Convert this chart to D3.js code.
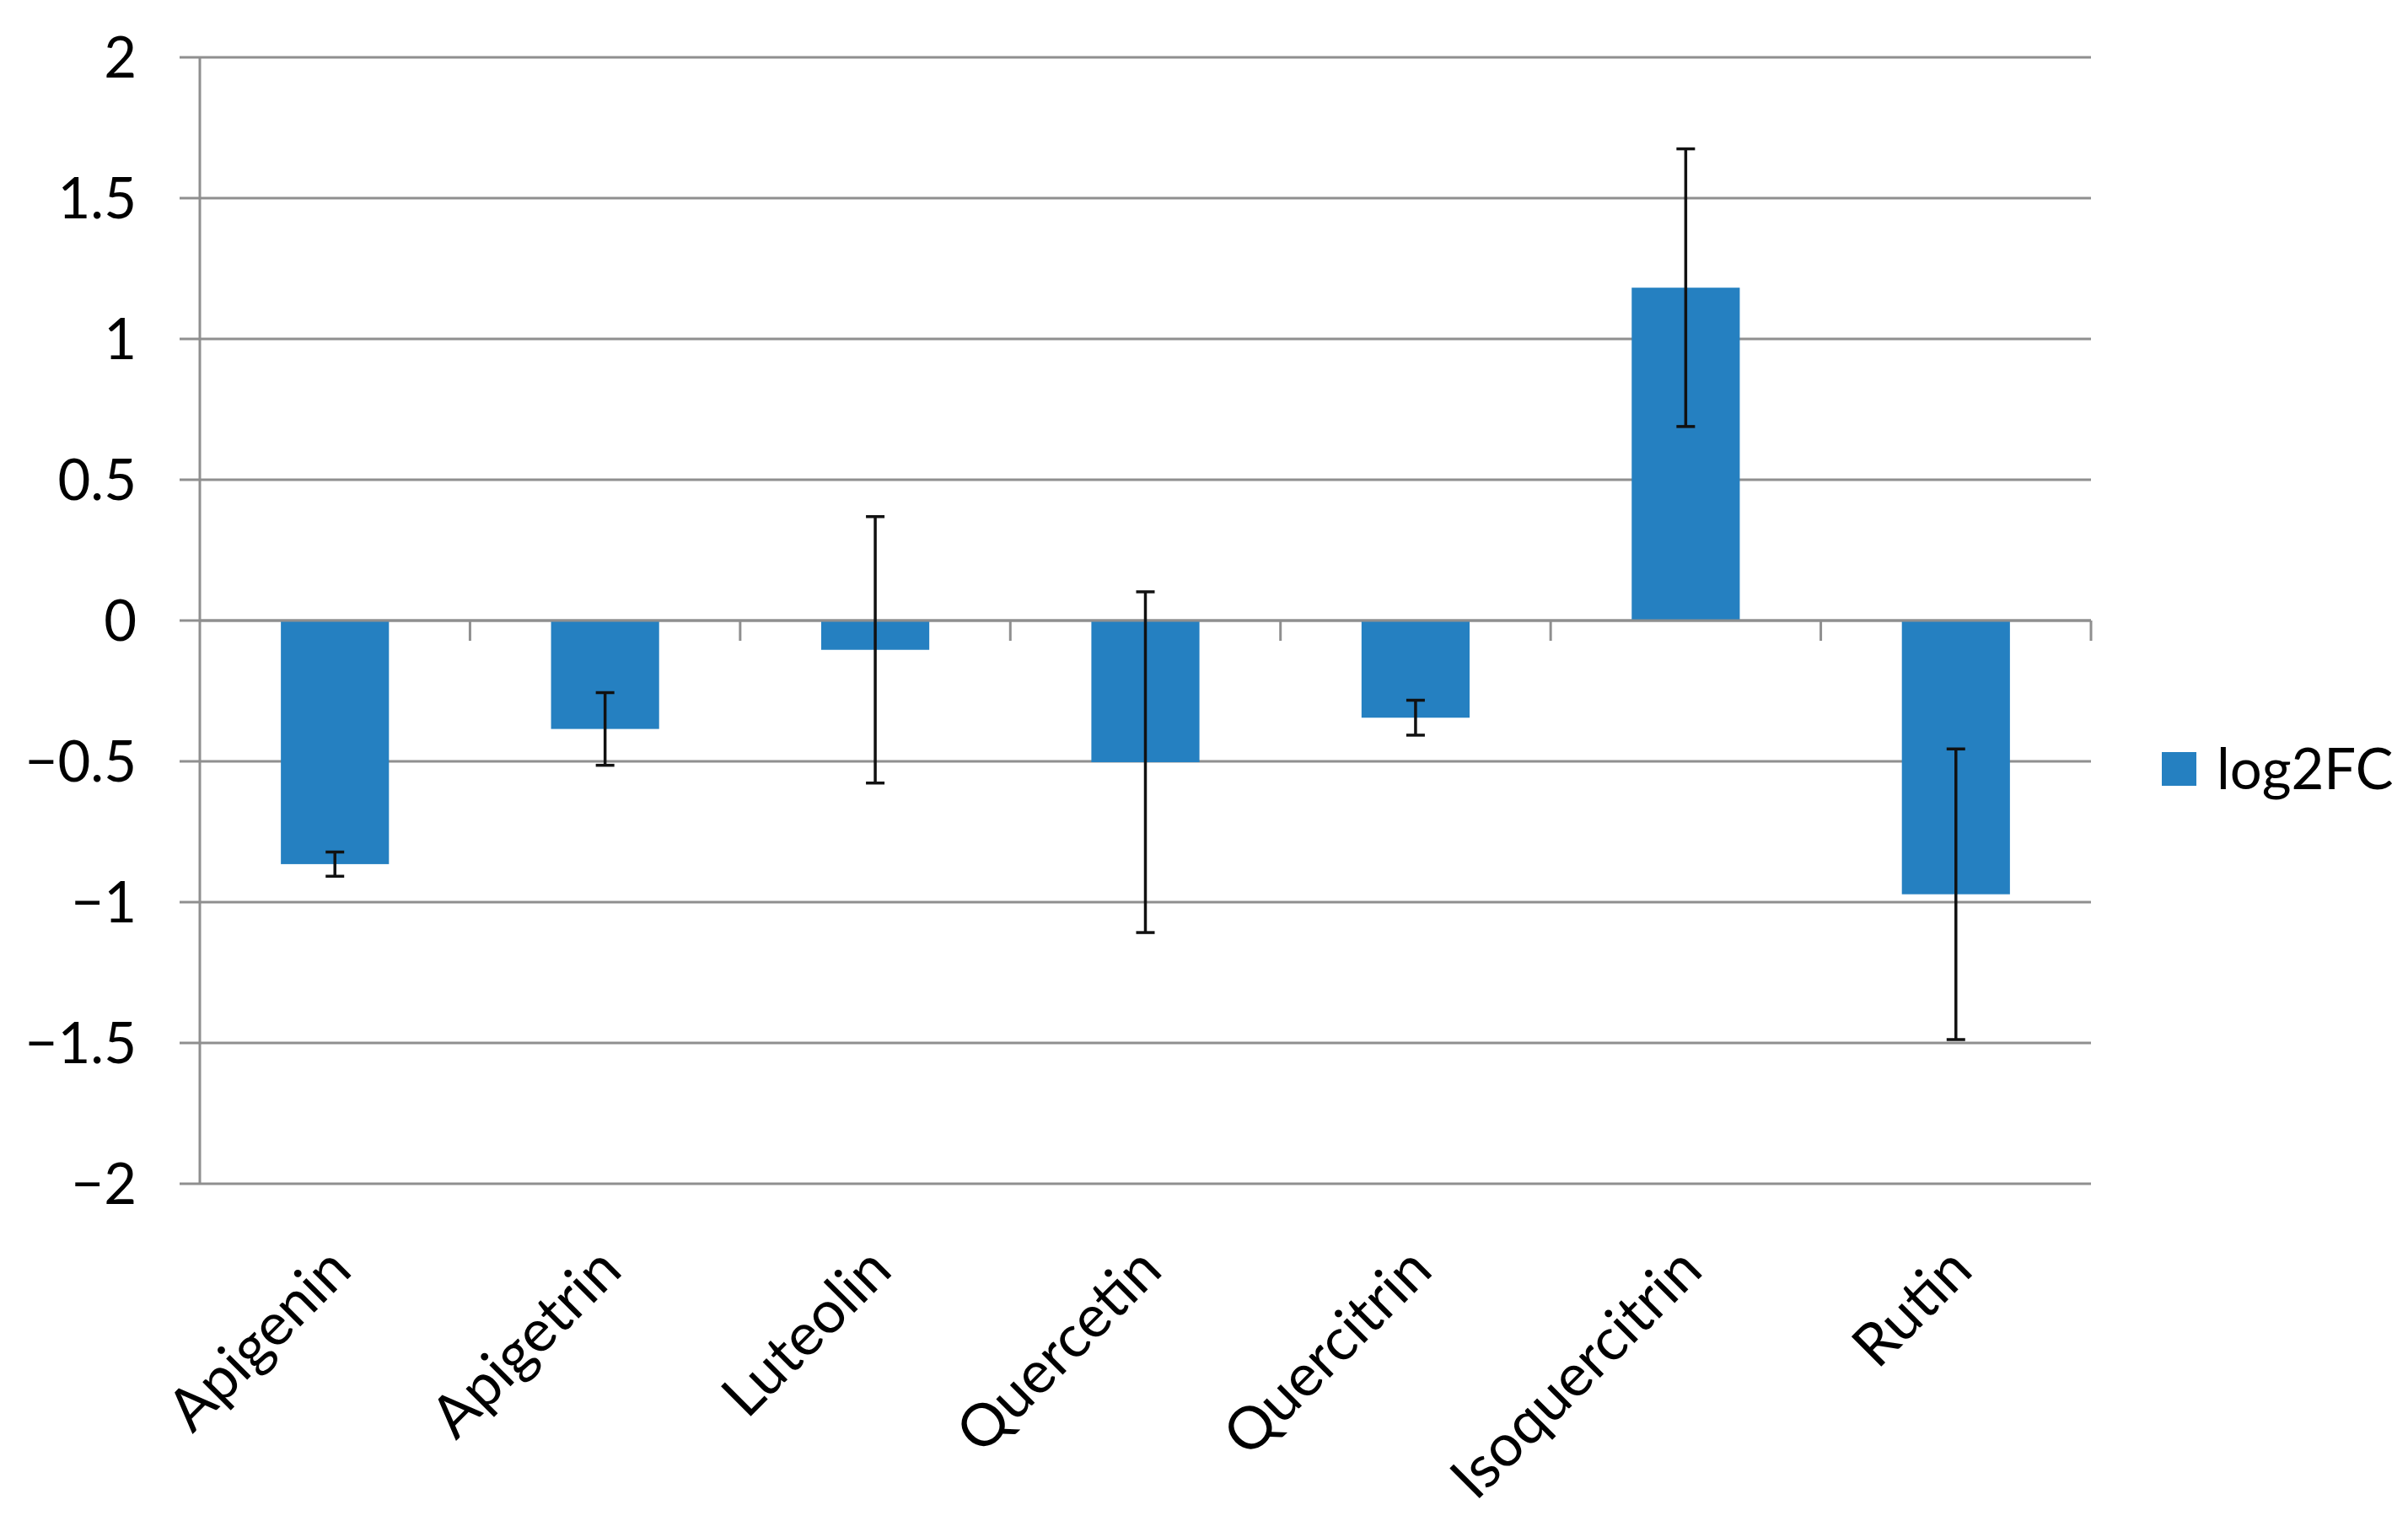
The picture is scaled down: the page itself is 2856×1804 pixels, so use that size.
<!DOCTYPE html>
<html>
<head>
<meta charset="utf-8">
<script src="https://cdn.jsdelivr.net/npm/d3@7"></script>
<style>
  body { margin: 0; background: #fff; }
  text { font-family: Lato, "Open Sans", sans-serif; fill: #000; }
</style>
</head>
<body>
<div id="plot"></div>
<script>
// Chart data
const compounds = ["Apigenin", "Apigetrin", "Luteolin", "Quercetin", "Quercitrin", "Isoquercitrin", "Rutin"];
const log2FC = [-0.865, -0.385, -0.104, -0.503, -0.345, 1.182, -0.972];
const errors = [0.043, 0.129, 0.473, 0.605, 0.062, 0.493, 0.516];
const yTicks = [-2, -1.5, -1, -0.5, 0, 0.5, 1, 1.5, 2];
const seriesName = "log2FC";

const W = 2856, H = 1804;
const margin = { top: 68, right: 376, bottom: 400, left: 237 };
const width = W - margin.left - margin.right;
const height = H - margin.top - margin.bottom;

const barColor = "#2580c1";
const gridColor = "#8f8f8f";
const fontSize = 67;
const catFontSize = 70;

const svg = d3.select("#plot")
  .append("svg")
  .attr("width", W)
  .attr("height", H);

const g = svg.append("g")
  .attr("transform", `translate(${margin.left},${margin.top})`);

const x = d3.scaleBand()
  .domain(compounds)
  .range([0, width])
  .paddingInner(0.6)
  .paddingOuter(0.3);

const y = d3.scaleLinear()
  .domain([-2, 2])
  .range([height, 0]);

// horizontal gridlines (with outward tick stubs)
g.append("g")
  .selectAll("line")
  .data(yTicks)
  .join("line")
  .attr("x1", -24)
  .attr("x2", width)
  .attr("y1", (d) => y(d))
  .attr("y2", (d) => y(d))
  .attr("stroke", gridColor)
  .attr("stroke-width", 3);

// y tick labels
g.append("g")
  .selectAll("text")
  .data(yTicks)
  .join("text")
  .attr("x", -75)
  .attr("y", (d) => y(d))
  .attr("dy", "0.36em")
  .attr("text-anchor", "end")
  .style("font-size", fontSize + "px")
  .text((d) => d < 0 ? "\u2212" + Math.abs(d) : d);

// vertical axis line
g.append("line")
  .attr("x1", 0).attr("x2", 0)
  .attr("y1", 0).attr("y2", height)
  .attr("stroke", gridColor)
  .attr("stroke-width", 3);

// category ticks hanging from the zero line
const step = x.step();
g.append("g")
  .selectAll("line")
  .data(d3.range(1, compounds.length + 1))
  .join("line")
  .attr("x1", (i) => i * step)
  .attr("x2", (i) => i * step)
  .attr("y1", y(0))
  .attr("y2", y(0) + 24)
  .attr("stroke", gridColor)
  .attr("stroke-width", 3);

// bars
g.append("g")
  .selectAll("rect")
  .data(compounds)
  .join("rect")
  .attr("x", (d) => x(d))
  .attr("width", x.bandwidth())
  .attr("y", (d, i) => y(Math.max(0, log2FC[i])))
  .attr("height", (d, i) => Math.abs(y(log2FC[i]) - y(0)))
  .attr("fill", barColor);

// zero line over the bar edges
g.append("line")
  .attr("x1", 0).attr("x2", width)
  .attr("y1", y(0)).attr("y2", y(0))
  .attr("stroke", gridColor)
  .attr("stroke-width", 3);

// error bars
const cap = 11;
const eb = g.append("g")
  .attr("stroke", "#111")
  .attr("stroke-width", 3.5);

compounds.forEach((c, i) => {
  const cx = x(c) + x.bandwidth() / 2;
  const hi = y(log2FC[i] + errors[i]);
  const lo = y(log2FC[i] - errors[i]);
  eb.append("line").attr("x1", cx).attr("x2", cx).attr("y1", hi).attr("y2", lo);
  eb.append("line").attr("x1", cx - cap).attr("x2", cx + cap).attr("y1", hi).attr("y2", hi);
  eb.append("line").attr("x1", cx - cap).attr("x2", cx + cap).attr("y1", lo).attr("y2", lo);
});

// rotated category labels
g.append("g")
  .selectAll("text")
  .data(compounds)
  .join("text")
  .attr("transform", (d) => `translate(${x(d) + x.bandwidth() / 2 - 12},${height + 71}) rotate(-45)`)
  .attr("text-anchor", "end")
  .attr("dy", "0.7em")
  .style("font-size", catFontSize + "px")
  .text((d) => d);

// legend
const legend = svg.append("g")
  .attr("transform", "translate(2564,892)");

legend.append("rect")
  .attr("width", 41)
  .attr("height", 40)
  .attr("fill", barColor);

legend.append("text")
  .attr("x", 65)
  .attr("y", 20)
  .attr("dy", "0.36em")
  .style("font-size", fontSize + "px")
  .text(seriesName);
</script>
</body>
</html>
